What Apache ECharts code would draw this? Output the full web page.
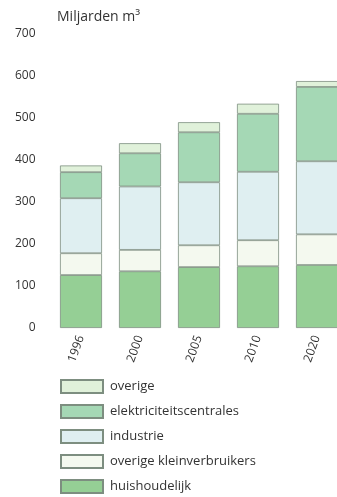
<!DOCTYPE html>
<html>
<head>
<meta charset="utf-8">
<script src="https://cdn.jsdelivr.net/npm/echarts@6/dist/echarts.min.js"></script>
<style>
  html, body { margin: 0; padding: 0; background: #fff; }
  #chart { width: 337px; height: 497px; }
</style>
</head>
<body>
<div id="chart"></div>
<script>
const years = ['1996', '2000', '2005', '2010', '2020'];
const huishoudelijk = [126, 135, 145, 147, 150];
const kleinverbruikers = [52, 51, 52, 62, 73];
const industrie = [131, 151, 150, 163, 174];
const elektriciteit = [62, 79, 119, 138, 177];
const overige = [16, 24, 24, 24, 14];
const yTicks = [0, 100, 200, 300, 400, 500, 600, 700];

const border = { borderColor: '#7d8e80', borderWidth: 0.8 };

function bar(name, data, color) {
  return {
    name: name,
    type: 'bar',
    stack: 'totaal',
    barWidth: 42,
    data: data,
    itemStyle: Object.assign({ color: color }, border)
  };
}

const chart = echarts.init(document.getElementById('chart'));
chart.setOption({
  animation: false,
  textStyle: { fontFamily: 'Open Sans' },
  title: {
    text: 'Miljarden m³',
    left: 52,
    top: 5,
    textStyle: { fontSize: 14, fontWeight: 'normal', color: '#333' }
  },
  legend: {
    orient: 'vertical',
    left: 60,
    top: 378,
    padding: 0,
    height: 130,
    itemWidth: 42,
    itemHeight: 13,
    itemGap: 8,
    icon: 'rect',
    data: ['overige', 'elektriciteitscentrales', 'industrie', 'overige kleinverbruikers', 'huishoudelijk'],
    textStyle: { fontSize: 13, lineHeight: 17, color: '#333', padding: [0, 0, 0, 2] }
  },
  grid: {
    left: 51.5,
    top: 34,
    width: 295,
    height: 294,
    outerBoundsMode: 'none'
  },
  xAxis: {
    type: 'category',
    data: years,
    axisLine: { show: false },
    axisTick: { show: false },
    axisLabel: {
      rotate: 70,
      fontSize: 12,
      color: '#333',
      margin: 8
    }
  },
  yAxis: {
    type: 'value',
    min: yTicks[0],
    max: yTicks[yTicks.length - 1],
    interval: 100,
    axisLine: { show: false },
    axisTick: { show: false },
    splitLine: { show: false },
    axisLabel: { fontSize: 12, color: '#333', margin: 16 }
  },
  series: [
    bar('huishoudelijk', huishoudelijk, '#95cf95'),
    bar('overige kleinverbruikers', kleinverbruikers, '#f4f9ef'),
    bar('industrie', industrie, '#dfeff1'),
    bar('elektriciteitscentrales', elektriciteit, '#a5d8b5'),
    bar('overige', overige, '#e0f1da')
  ]
});
</script>
</body>
</html>
